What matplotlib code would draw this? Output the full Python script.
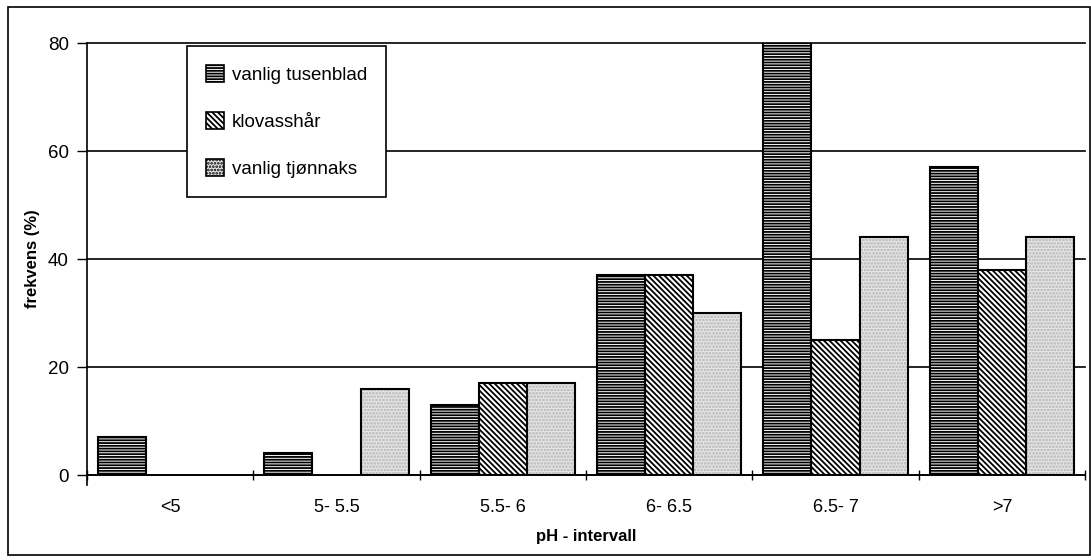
import matplotlib
matplotlib.use('Agg')
import matplotlib.pyplot as plt
import matplotlib.patches as patches
import numpy as np

plt.rcParams['font.family'] = ['Liberation Sans', 'DejaVu Sans']
plt.rcParams['hatch.linewidth'] = 1.3

# data
categories = ['<5', '5- 5.5', '5.5- 6', '6- 6.5', '6.5- 7', '>7']
series_names = ['vanlig tusenblad', 'klovasshår', 'vanlig tjønnaks']
tusenblad = [7, 4, 13, 37, 80, 57]
klovasshar = [0, 0, 17, 37, 25, 38]
tjonnaks = [0, 16, 17, 30, 44, 44]
yticks = [0, 20, 40, 60, 80]


def draw_chart():
    fig = plt.figure(figsize=(10.91, 5.6), dpi=100)
    W, H = 1091, 560
    ax = fig.add_axes([87 / W, (H - 475) / H, 998 / W, 432 / H])

    # outer frame round the whole chart
    frame = patches.Rectangle((8 / W, 5 / H), 1082 / W, 548 / H, transform=fig.transFigure,
                              fill=False, edgecolor='black', linewidth=1.2)
    fig.patches.append(frame)

    x = np.arange(len(categories))
    w = 0.289
    styles = [
        dict(facecolor='white', hatch='------', edgecolor='black'),
        dict(facecolor='white', hatch='\\\\\\\\\\\\', edgecolor='black'),
        dict(facecolor='#e6e6e6', hatch='.....', edgecolor='#b4b4b4'),
    ]
    all_vals = [tusenblad, klovasshar, tjonnaks]
    for k, (vals, st) in enumerate(zip(all_vals, styles)):
        bars = ax.bar(x + (k - 1) * w, vals, w, label=series_names[k],
                      facecolor=st['facecolor'], hatch=st['hatch'],
                      edgecolor=st['edgecolor'], linewidth=0, zorder=3)
        # black outline separately so hatch colour can differ
        for b, v in zip(bars, vals):
            if v > 0:
                ax.add_patch(patches.Rectangle((b.get_x(), 0), b.get_width(), v,
                                               fill=False, edgecolor='black',
                                               linewidth=1.5, zorder=4))

    ax.set_xlim(-0.5, len(categories) - 0.5)
    ax.set_ylim(0, 80)
    ax.set_yticks(yticks)
    ax.set_xticks(x)
    ax.set_xticklabels(categories, fontsize=13)
    ax.set_xticks(np.arange(len(categories) + 1) - 0.5, minor=True)
    ax.tick_params(axis='x', which='major', length=0, pad=17)
    ax.tick_params(axis='x', which='minor', length=7, width=1, direction='inout')
    ax.tick_params(axis='y', length=7, width=1, direction='out', labelsize=13.5, pad=6)

    ax.yaxis.grid(True, color='black', linewidth=1.2, zorder=0)
    for gl in ax.get_ygridlines():
        gl.set_clip_on(False)
    ax.set_axisbelow(True)
    for s in ['top', 'right']:
        ax.spines[s].set_visible(False)
    ax.spines['left'].set_linewidth(1.2)
    ax.spines['bottom'].set_linewidth(1.2)
    ax.spines['left'].set_bounds(-1.8, 80)

    ax.set_ylabel('frekvens (%)', fontsize=12, fontweight='bold', labelpad=6)
    ax.set_xlabel('pH - intervall', fontsize=12, fontweight='bold', labelpad=10)

    leg = ax.legend(loc='upper left', bbox_to_anchor=(0.1, 0.992), fontsize=13.5,
                    fancybox=False, framealpha=1, edgecolor='black',
                    handlelength=1.0, handleheight=1.0, labelspacing=1.5,
                    handletextpad=0.4, borderpad=1.0, borderaxespad=0)
    leg.get_frame().set_linewidth(1.2)
    leg.set_zorder(10)
    for h in leg.legend_handles:
        h.set_linewidth(1.2)
        h.set_edgecolor('black')

    fig.savefig('out.png', dpi=100)


if __name__ == "__main__":
    draw_chart()
